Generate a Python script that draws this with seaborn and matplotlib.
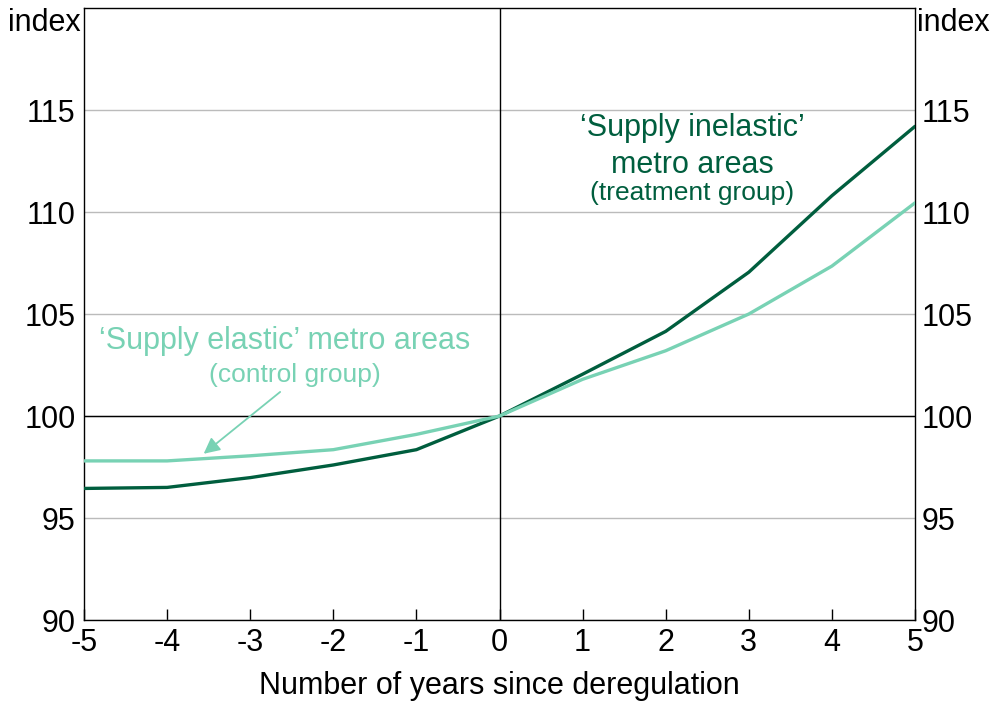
import matplotlib
matplotlib.use("Agg")
import matplotlib.pyplot as plt
import pandas as pd
import seaborn as sns

years = [-5, -4, -3, -2, -1, 0, 1, 2, 3, 4, 5]
inelastic = [96.45, 96.5, 96.98, 97.6, 98.35, 100.0, 102.05, 104.15, 107.05, 110.8, 114.2]
elastic = [97.8, 97.8, 98.05, 98.35, 99.1, 100.0, 101.8, 103.2, 105.0, 107.35, 110.45]
yticks = [90, 95, 100, 105, 110, 115]
xticks = years

dark = "#005E3E"
light = "#78D2B4"

sns.set_style("white")
plt.rcParams["font.family"] = ["Liberation Sans", "DejaVu Sans"]
plt.rcParams["axes.unicode_minus"] = False
plt.rcParams["text.color"] = "black"
plt.rcParams["xtick.color"] = "black"
plt.rcParams["ytick.color"] = "black"
plt.rcParams["axes.labelcolor"] = "black"

df = pd.DataFrame({
    "year": years * 2,
    "value": inelastic + elastic,
    "group": ["inelastic"] * len(years) + ["elastic"] * len(years),
})

fs = 22
fig = plt.figure(figsize=(9.92, 7.04), dpi=100)
ax = fig.add_axes([0.0847, 0.1193, 0.8377, 0.8693])
sns.lineplot(data=df, x="year", y="value", hue="group",
             palette={"inelastic": dark, "elastic": light},
             linewidth=2.4, legend=False, ax=ax, zorder=3)

ax.set_xlim(-5, 5)
ax.set_ylim(90, 120)
ax.set_xticks(xticks)
ax.set_yticks(yticks)
ax.yaxis.grid(True, color="#BBBBBB", linewidth=1)
ax.axhline(100, color="black", linewidth=1, zorder=2)
ax.axvline(0, color="black", linewidth=1, zorder=2)
for s in ax.spines.values():
    s.set_color("black")
    s.set_linewidth(1)

ax.tick_params(axis="x", direction="in", length=8, width=1, color="black",
               labelsize=fs, pad=6, bottom=True)
ax.tick_params(axis="y", length=0, labelsize=fs, pad=6)
ax.set_xlabel("Number of years since deregulation", fontsize=fs, labelpad=9)
ax.set_ylabel("")

ax2 = ax.twinx()
ax2.set_ylim(ax.get_ylim())
ax2.set_yticks(yticks)
ax2.tick_params(axis="y", length=0, labelsize=fs, pad=5)
for s in ax2.spines.values():
    s.set_visible(False)

fig.text(0.008, 0.968, "index", fontsize=fs, ha="left", va="center")
fig.text(0.924, 0.968, "index", fontsize=fs, ha="left", va="center")

ax.text(2.32, 114.12, "\u2018Supply inelastic\u2019", color=dark,
        fontsize=fs, ha="center", va="center")
ax.text(2.32, 112.3, "metro areas", color=dark,
        fontsize=fs, ha="center", va="center")
ax.text(2.32, 110.93, "(treatment group)", color=dark, fontsize=19,
        ha="center", va="center")
ax.text(-2.58, 103.68, "\u2018Supply elastic\u2019 metro areas", color=light,
        fontsize=fs, ha="center", va="center")
ax.text(-2.46, 102.0, "(control group)", color=light, fontsize=19,
        ha="center", va="center")
ax.annotate("", xy=(-3.56, 98.15), xytext=(-2.64, 101.18),
            arrowprops=dict(arrowstyle="-|>", color=light, lw=1.3,
                            mutation_scale=24, shrinkA=0, shrinkB=0))

fig.savefig("out.png", dpi=100)
